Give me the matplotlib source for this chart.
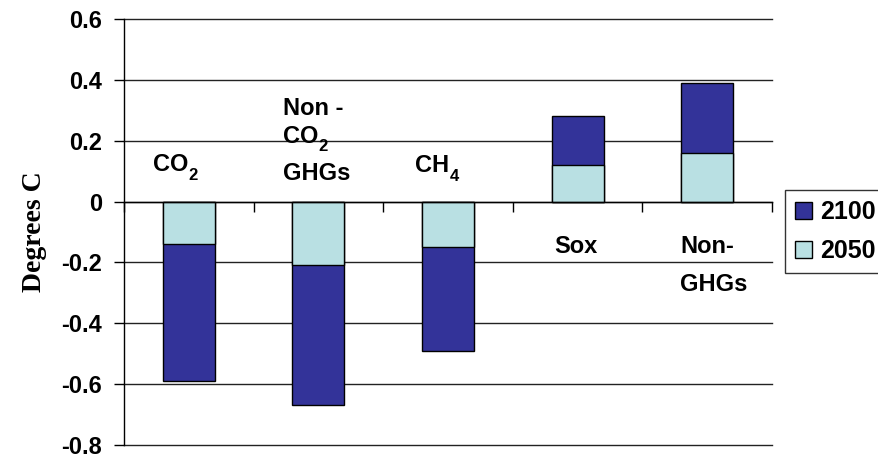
import matplotlib
matplotlib.use("Agg")
import matplotlib.pyplot as plt
import numpy as np
import re

# data
categories = ["CO$_2$", "Non -\nCO$_2$\nGHGs", "CH$_4$", "Sox", "Non-\nGHGs"]
vals_2100 = [-0.59, -0.67, -0.49, 0.28, 0.39]
vals_2050 = [-0.14, -0.21, -0.15, 0.12, 0.16]
yticks = [0.6, 0.4, 0.2, 0, -0.2, -0.4, -0.6, -0.8]
ytick_labels = ["0.6", "0.4", "0.2", "0", "-0.2", "-0.4", "-0.6", "-0.8"]

# layout of the in-plot category labels (left x offset from bar centre, baseline of each line)
label_dx = [-0.276, -0.273, -0.255, -0.182, -0.21]
label_baselines = [[0.100], [0.285, 0.193, 0.071], [0.097], [-0.169], [-0.169, -0.294]]

plt.rcParams['font.family'] = ['Liberation Sans', 'DejaVu Sans']

FS = 17
SUB_FS = 12

fig = plt.figure(figsize=(8.79, 4.58), dpi=100)
ax = fig.add_axes([124/879, 13/458, (772-124)/879, (445-19)/458])

x = np.arange(len(categories))
c2100 = "#333399"
c2050 = "#B9E0E3"
w = 0.4
ax.bar(x, vals_2100, width=w, color=c2100, edgecolor="black", linewidth=1.0, zorder=3, label="2100")
ax.bar(x, vals_2050, width=w, color=c2050, edgecolor="black", linewidth=1.0, zorder=4, label="2050")

ax.set_ylim(-0.8, 0.6)
ax.set_xlim(-0.5, len(categories) - 0.5)
ax.set_yticks(yticks)
ax.set_yticklabels(ytick_labels, fontsize=FS, fontweight='bold')
ax.yaxis.grid(True, color="#222222", linewidth=1.0, zorder=1, clip_on=False)
ax.set_axisbelow(True)

ax.spines['top'].set_visible(False)
ax.spines['right'].set_visible(False)
ax.spines['left'].set_linewidth(1.0)
ax.spines['bottom'].set_position(('data', 0))
ax.spines['bottom'].set_linewidth(1.0)
ax.spines['bottom'].set_zorder(5)
ax.set_xticks(np.arange(len(categories) + 1) - 0.5)
ax.set_xticklabels([])
ax.tick_params(axis='x', direction='out', length=7, width=1.0)
ax.tick_params(axis='y', direction='out', length=7, width=1.0, pad=9)

pat = re.compile(r'^(.*?)\$_(\w+)\$(.*)$')
for xi, lab, dx, bls in zip(x, categories, label_dx, label_baselines):
    for line, bl in zip(lab.split("\n"), bls):
        m = pat.match(line)
        if m:
            main = ax.text(xi + dx, bl, m.group(1), ha='left', va='baseline',
                           fontsize=FS, fontweight='bold', zorder=6)
            ax.annotate(m.group(2), xy=(1, 0), xycoords=main, xytext=(0.2, -2.5),
                        textcoords='offset points', ha='left', va='baseline',
                        fontsize=SUB_FS, fontweight='bold', zorder=6)
        else:
            ax.text(xi + dx, bl, line, ha='left', va='baseline', fontsize=FS,
                    fontweight='bold', zorder=6)

ax.set_ylabel("Degrees C", family="Liberation Serif", fontweight='bold', fontsize=20, labelpad=10)

handles, labels = ax.get_legend_handles_labels()
leg = fig.legend(handles, labels, loc='upper left', bbox_to_anchor=(785/879, 1 - 190/458),
                 frameon=True, fancybox=False, edgecolor='black', prop={'weight': 'bold', 'size': 18},
                 handlelength=0.68, handleheight=0.68, handletextpad=0.32, borderpad=0.4, labelspacing=0.6,
                 borderaxespad=0)
leg.get_frame().set_linewidth(1.0)
for h in leg.legend_handles:
    h.set_edgecolor('black')
    h.set_linewidth(1.0)

fig.savefig("out.png", dpi=100)
